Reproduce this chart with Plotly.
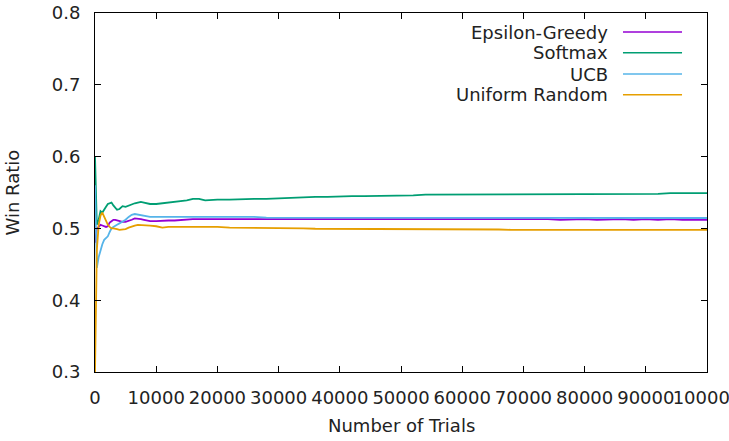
import plotly.graph_objects as go

# ---------------- data ----------------
trials = [0, 300, 600, 900, 1200, 1500, 1800, 2100, 2400, 2700, 3000, 3300, 3600,
          4000, 4500, 5000, 5500, 6000, 6500, 7000, 7500, 8000, 9000, 10000,
          11000, 12000, 13000, 14000, 15000, 16000, 17000, 18000, 19000, 20000,
          22000, 24000, 26000, 28000, 30000, 32000, 34000, 36000, 38000, 40000,
          42000, 44000, 46000, 48000, 50000, 52000, 54000, 56000, 58000, 60000,
          62000, 64000, 66000, 68000, 70000, 72000, 74000, 76000, 78000, 80000,
          82000, 84000, 86000, 88000, 90000, 92000, 94000, 96000, 98000, 100000]

epsilon_greedy = [0.480, 0.500, 0.502, 0.505, 0.504, 0.503, 0.502, 0.503, 0.508, 0.510, 0.512, 0.512, 0.511,
                  0.510, 0.509, 0.509, 0.510, 0.512, 0.514, 0.514, 0.513, 0.512, 0.510, 0.510,
                  0.511, 0.511, 0.511, 0.512, 0.512, 0.513, 0.513, 0.513, 0.514, 0.513,
                  0.513, 0.514, 0.513, 0.513, 0.514, 0.513, 0.513, 0.513, 0.514, 0.513,
                  0.513, 0.514, 0.513, 0.513, 0.514, 0.513, 0.513, 0.514, 0.513, 0.513,
                  0.514, 0.513, 0.513, 0.514, 0.513, 0.513, 0.513, 0.512, 0.513, 0.513,
                  0.512, 0.513, 0.513, 0.512, 0.513, 0.512, 0.513, 0.512, 0.512, 0.512]

softmax = [0.600, 0.505, 0.512, 0.524, 0.522, 0.527, 0.530, 0.534, 0.535, 0.536, 0.532, 0.529, 0.526,
           0.527, 0.531, 0.530, 0.532, 0.534, 0.535, 0.536, 0.537, 0.536, 0.534, 0.534,
           0.535, 0.535, 0.536, 0.538, 0.539, 0.541, 0.541, 0.539, 0.540, 0.540,
           0.540, 0.541, 0.541, 0.541, 0.542, 0.543, 0.543, 0.544, 0.544, 0.545,
           0.545, 0.545, 0.545, 0.546, 0.546, 0.546, 0.547, 0.547, 0.547, 0.548,
           0.548, 0.548, 0.548, 0.548, 0.548, 0.548, 0.548, 0.547, 0.547, 0.548,
           0.548, 0.548, 0.548, 0.548, 0.548, 0.548, 0.549, 0.549, 0.549, 0.549]

ucb = [0.560, 0.445, 0.460, 0.470, 0.478, 0.484, 0.487, 0.489, 0.495, 0.500, 0.502, 0.503, 0.505,
       0.507, 0.509, 0.512, 0.516, 0.519, 0.520, 0.519, 0.518, 0.517, 0.516, 0.516,
       0.516, 0.516, 0.517, 0.517, 0.517, 0.517, 0.517, 0.517, 0.517, 0.517,
       0.516, 0.516, 0.516, 0.515, 0.515, 0.515, 0.515, 0.515, 0.5145, 0.5145,
       0.5145, 0.5145, 0.5145, 0.5145, 0.5145, 0.5145, 0.5145, 0.5145, 0.5145, 0.5145,
       0.5145, 0.5145, 0.5145, 0.5145, 0.5145, 0.5145, 0.5145, 0.5145, 0.5145, 0.5145,
       0.5145, 0.5145, 0.5145, 0.5145, 0.5145, 0.5145, 0.5145, 0.5145, 0.5145, 0.5145]

uniform_random = [0.300, 0.470, 0.505, 0.518, 0.522, 0.516, 0.510, 0.505, 0.502, 0.500, 0.500, 0.500, 0.499,
                  0.498, 0.498, 0.499, 0.501, 0.503, 0.504, 0.505, 0.505, 0.505, 0.504, 0.503,
                  0.501, 0.502, 0.502, 0.503, 0.503, 0.502, 0.502, 0.503, 0.502, 0.502,
                  0.501, 0.501, 0.501, 0.500, 0.500, 0.500, 0.500, 0.4995, 0.4995, 0.4995,
                  0.4995, 0.499, 0.499, 0.499, 0.499, 0.499, 0.4985, 0.4985, 0.4985, 0.4985,
                  0.4985, 0.4985, 0.4985, 0.498, 0.498, 0.498, 0.4975, 0.4975, 0.4975, 0.4975,
                  0.4975, 0.498, 0.498, 0.498, 0.498, 0.498, 0.498, 0.498, 0.498, 0.498]

series_names = ["Epsilon-Greedy", "Softmax", "UCB", "Uniform Random"]
series_values = [epsilon_greedy, softmax, ucb, uniform_random]
colors = ["#9400d3", "#009e73", "#56b4e9", "#e69f00"]

x_ticks = [0, 10000, 20000, 30000, 40000, 50000, 60000, 70000, 80000, 90000, 100000]
y_ticks = [0.3, 0.4, 0.5, 0.6, 0.7, 0.8]

# ---------------- figure ----------------
FONT = "DejaVu Sans"
TXT = "#222222"
fig = go.Figure()
for name, vals, col in zip(series_names, series_values, colors):
    fig.add_trace(go.Scatter(x=trials, y=vals, mode="lines", name=name,
                             line=dict(color=col, width=1.8), showlegend=False))

axis_common = dict(showgrid=False, zeroline=False, showline=True, linecolor="black",
                   linewidth=1, mirror="ticks", ticks="inside", ticklen=6,
                   tickcolor="black", tickwidth=1, ticklabeloverflow="allow",
                   automargin=False,
                   tickfont=dict(family=FONT, size=18, color=TXT))

fig.update_xaxes(range=[0, 100000], tickvals=x_ticks,
                 ticktext=[str(v) for v in x_ticks], tickangle=0,
                 ticklabelstandoff=9, **axis_common)
fig.update_yaxes(range=[0.3, 0.8], tickvals=y_ticks,
                 ticktext=[f"{v:.1f}" for v in y_ticks],
                 ticklabelstandoff=10, **axis_common)

# axis titles
fig.add_annotation(text="Number of Trials", xref="paper", yref="paper", x=0.5, y=0,
                   xanchor="center", yanchor="middle", yshift=-53, showarrow=False,
                   font=dict(family=FONT, size=18, color=TXT))
fig.add_annotation(text="Win Ratio", xref="paper", yref="paper", x=0, y=0.5,
                   xanchor="center", yanchor="middle", xshift=-83, textangle=-90,
                   showarrow=False, font=dict(family=FONT, size=18, color=TXT))

# gnuplot-style key: text right-aligned, sample line on the right
key_y = [0.947, 0.889, 0.830, 0.772]
for name, col, ky in zip(series_names, colors, key_y):
    fig.add_annotation(text=name, xref="paper", yref="paper", x=0.8415, y=ky,
                       xanchor="right", yanchor="middle", showarrow=False,
                       font=dict(family=FONT, size=18, color=TXT))
    fig.add_shape(type="line", xref="paper", yref="paper", x0=0.8627, x1=0.9592,
                  y0=ky, y1=ky, line=dict(color=col, width=1.5))

fig.update_layout(width=729, height=441,
                  margin=dict(l=95, r=22, t=13, b=69, autoexpand=False),
                  paper_bgcolor="white", plot_bgcolor="white",
                  font=dict(family=FONT, size=18, color=TXT))

fig.write_html("out.html")
